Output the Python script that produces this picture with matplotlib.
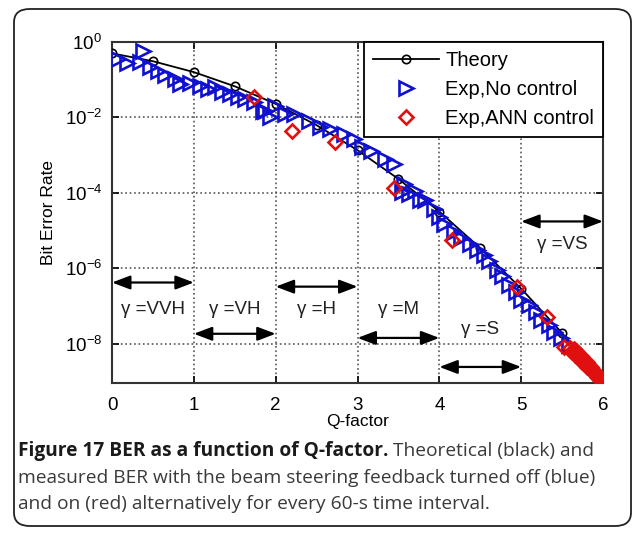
import numpy as np
import matplotlib; matplotlib.use("Agg")
import matplotlib.pyplot as plt
from matplotlib.patches import FancyBboxPatch
plt.rcParams.update({"font.family": ["Liberation Sans", "DejaVu Sans"], "font.size": 11,
                     "mathtext.default": "regular"})

# theory curve (markers every 0.5 in Q)
q_th = [0, 0.5, 1, 1.5, 2, 2.5, 3, 3.5, 4, 4.5, 5, 5.5, 6]
ber_th = [0.5, 0.309, 0.159, 0.0668, 0.0228, 6.21e-3, 1.35e-3, 2.33e-4, 3.17e-5,
          3.4e-6, 2.87e-7, 1.9e-8, 9.87e-10]

# measured, beam steering feedback off (blue)
q_nc = [0.07, 0.18, 0.34, 0.38, 0.46, 0.56, 0.65, 0.77, 0.83, 0.95, 1.07, 1.17, 1.26, 1.34,
        1.44, 1.54, 1.63, 1.74, 1.84, 1.87, 1.93, 1.99, 2.11, 2.23, 2.41, 2.54, 2.66, 2.84,
        2.96, 3.05, 3.17, 3.33, 3.45, 3.54, 3.57, 3.63, 3.70, 3.76, 3.82, 3.94, 4.00, 4.06,
        4.18, 4.27, 4.37, 4.46, 4.55, 4.61, 4.70, 4.77, 4.85, 4.94, 5.00, 5.10, 5.18, 5.24,
        5.34, 5.40, 5.49, 5.59]
logber_nc = [-0.45, -0.56, -0.53, -0.24, -0.66, -0.77, -0.88, -0.98, -1.12, -1.09, -1.17,
             -1.25, -1.20, -1.33, -1.38, -1.46, -1.52, -1.60, -1.84, -1.84, -2.00, -1.70,
             -1.91, -1.91, -2.10, -2.26, -2.31, -2.45, -2.58, -2.79, -2.90, -3.11, -3.24,
             -3.99, -3.78, -4.04, -3.96, -4.18, -4.18, -4.44, -4.65, -4.84, -5.03, -5.19,
             -5.37, -5.51, -5.64, -5.82, -6.04, -6.22, -6.44, -6.62, -6.84, -6.97, -7.15,
             -7.37, -7.50, -7.69, -7.85, -8.03]

# measured, ANN control on (red)
q_ann = [1.74, 2.20, 2.72, 3.45, 4.16, 4.95, 5.32, 5.52, 5.60, 5.62, 5.64, 5.66, 5.67, 5.69,
         5.70, 5.72, 5.73, 5.74, 5.76, 5.77, 5.78, 5.79, 5.80, 5.81, 5.83, 5.84, 5.85, 5.86,
         5.88, 5.89, 5.90, 5.91, 5.92, 5.93, 5.94, 5.95, 5.96]
logber_ann = [-1.46, -2.37, -2.66, -3.86, -5.24, -6.49, -7.29, -8.09, -8.12, -8.22, -8.15,
              -8.30, -8.20, -8.36, -8.26, -8.42, -8.33, -8.48, -8.40, -8.52, -8.46, -8.58,
              -8.50, -8.62, -8.57, -8.68, -8.62, -8.74, -8.70, -8.79, -8.75, -8.84, -8.80,
              -8.88, -8.86, -8.92, -8.96]

# gamma regions: (q start, q end, arrow log10 BER, label, label q, label log10 BER)
regions = [(0, 1, -6.38, "γ =VVH", 0.5, -7.1),
           (1, 2, -7.74, "γ =VH", 1.5, -7.1),
           (2, 3, -6.49, "γ =H", 2.5, -7.1),
           (3, 4, -7.85, "γ =M", 3.5, -7.1),
           (4, 5, -8.62, "γ =S", 4.5, -7.63),
           (5, 6, -4.76, "γ =VS", 5.5, -5.37)]

fig = plt.figure(figsize=(6.34, 5.33), dpi=100)
fig.patches.append(FancyBboxPatch((14/634, 1-526/533), 617/634, 517/533,
                                  boxstyle="round,pad=0,rounding_size=0.025",
                                  transform=fig.transFigure, fill=False, lw=1.3, ec="#222222"))
ax = fig.add_axes([112/634, 1-383/533, 491/634, 341/533])
ax.semilogy(q_th, ber_th, "-o", color="k", lw=1.3, ms=6, mfc="none", mew=1.2, label="Theory", zorder=3)
ax.semilogy(q_nc, 10**np.array(logber_nc), ">", color="#1010d0", ms=10, mfc="none", mew=1.9,
            ls="none", label="Exp,No control", zorder=4)
ax.semilogy(q_ann, 10**np.array(logber_ann), "D", color="#e01010", ms=7, mfc="none", mew=1.9,
            ls="none", label="Exp,ANN control", zorder=5)

for x0, x1, ly, lab, tx, ty in regions:
    ax.annotate("", xy=(x1, 10**ly), xytext=(x0, 10**ly),
                arrowprops=dict(arrowstyle="<|-|>,head_length=1.0,head_width=0.38", color="k",
                                lw=1.6, shrinkA=0, shrinkB=0))
    ax.text(tx, 10**ty, lab, ha="center", va="center", fontsize=13.5, color="#222222")

ax.set_xlim(0, 6)
ax.set_ylim(9e-10, 1)
ax.set_xticks(range(7))
ax.set_yticks([1, 1e-2, 1e-4, 1e-6, 1e-8])
ax.minorticks_off()
ax.tick_params(direction="in", top=True, right=True, length=5, width=1.2, labelsize=13.5, pad=7)
ax.tick_params(axis="x", pad=10)
ax.grid(True, ls=":", color="#555555", lw=1.2)
for s in ax.spines.values():
    s.set_linewidth(1.5); s.set_color("#333333")
ax.set_xlabel("Q-factor", fontsize=12.5, labelpad=0)
ax.set_ylabel("Bit Error Rate", fontsize=12.5, labelpad=6)
leg = ax.legend(loc="upper right", borderaxespad=0, fancybox=False, edgecolor="k", framealpha=1,
                fontsize=14.5, handlelength=3.3, handletextpad=0.3, labelspacing=0.5, borderpad=0.45)
leg.get_frame().set_linewidth(1.3)

# caption
cap = dict(family=["Open Sans", "DejaVu Sans"], fontsize=13.8, va="baseline")
t = fig.text(18/634, 1-456/533, "Figure 17 BER as a function of Q-factor.", weight="bold",
             color="#1a1a1a", **cap)
fig.canvas.draw()
bb = t.get_window_extent(fig.canvas.get_renderer())
fig.text(bb.x1/fig.bbox.width + 5/634, 1-456/533, "Theoretical (black) and", color="#3a3a3a", **cap)
fig.text(18/634, 1-483/533, "measured BER with the beam steering feedback turned off (blue)",
         color="#3a3a3a", **cap)
fig.text(18/634, 1-509/533, "and on (red) alternatively for every 60-s time interval.",
         color="#3a3a3a", **cap)

fig.savefig("out.png", dpi=100)
